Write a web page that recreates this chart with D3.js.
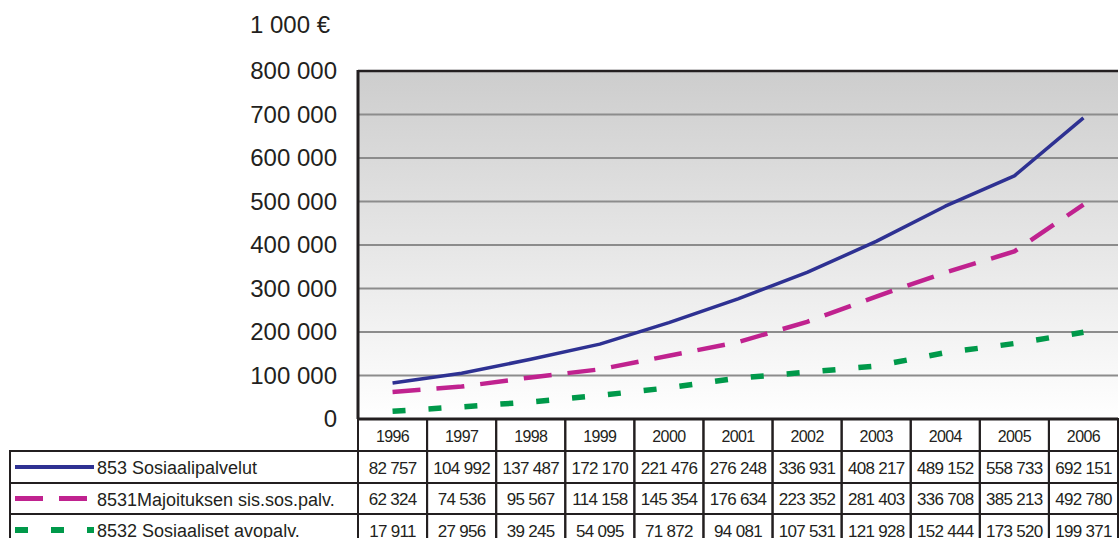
<!DOCTYPE html>
<html>
<head>
<meta charset="utf-8">
<script src="https://cdn.jsdelivr.net/npm/d3@7"></script>
<style>
  body { margin: 0; background: #fff; }
  svg { display: block; font-family: "Liberation Sans", Arial, sans-serif; }
</style>
</head>
<body>
<div id="chart"></div>
<script>
const years = ["1996", "1997", "1998", "1999", "2000", "2001", "2002", "2003", "2004", "2005", "2006"];
const seriesNames = ["853 Sosiaalipalvelut", "8531Majoituksen sis.sos.palv.", "8532 Sosiaaliset avopalv."];
const sosiaalipalvelut = [82757, 104992, 137487, 172170, 221476, 276248, 336931, 408217, 489152, 558733, 692151];
const majoitus = [62324, 74536, 95567, 114158, 145354, 176634, 223352, 281403, 336708, 385213, 492780];
const avopalvelut = [17911, 27956, 39245, 54095, 71872, 94081, 107531, 121928, 152444, 173520, 199371];
const yTicks = [0, 100000, 200000, 300000, 400000, 500000, 600000, 700000, 800000];
const unitLabel = "1 000 €";

const series = [
  {name: seriesNames[0], values: sosiaalipalvelut, color: "#2e3192", width: 3.5, dash: null},
  {name: seriesNames[1], values: majoitus, color: "#c0228f", width: 4.5, dash: "28,16"},
  {name: seriesNames[2], values: avopalvelut, color: "#00994a", width: 5.5, dash: "13,23"}
];

const width = 1120, height = 538;
const plotLeft = 358, plotRight = 1118, plotTop = 71, plotBottom = 419;
const rowTops = [451, 483, 514];
const rowH = [32, 31, 32];
const ink = "#231f20";

const fmt = d3.formatLocale({thousands: " ", grouping: [3], decimal: ","}).format(",d");

const x = d3.scaleBand().domain(years).range([plotLeft, plotRight]).padding(0);
const y = d3.scaleLinear().domain([0, 800000]).range([plotBottom, plotTop]);

const svg = d3.select("#chart").append("svg")
  .attr("width", width).attr("height", height);

const grad = svg.append("defs").append("linearGradient")
  .attr("id", "bg").attr("x1", 0).attr("y1", 0).attr("x2", 0).attr("y2", 1);
grad.append("stop").attr("offset", "0%").attr("stop-color", "#cdcdcd");
grad.append("stop").attr("offset", "100%").attr("stop-color", "#ffffff");

svg.append("rect")
  .attr("x", plotLeft).attr("y", plotTop)
  .attr("width", plotRight - plotLeft).attr("height", plotBottom - plotTop)
  .attr("fill", "url(#bg)");

// gridlines
svg.append("g").selectAll("line")
  .data(yTicks.filter(d => d > 0 && d < 800000))
  .join("line")
    .attr("x1", plotLeft).attr("x2", plotRight)
    .attr("y1", d => y(d)).attr("y2", d => y(d))
    .attr("stroke", "#8c8c8c").attr("stroke-width", 2);

// y labels
svg.append("g").selectAll("text")
  .data(yTicks)
  .join("text")
    .attr("x", 337).attr("y", d => y(d)).attr("dy", "0.35em")
    .attr("text-anchor", "end").attr("font-size", 24).attr("fill", ink)
    .text(d => d === 0 ? "0" : fmt(d));

svg.append("text")
  .attr("x", 250).attr("y", 33)
  .attr("font-size", 24).attr("fill", ink)
  .text(unitLabel);

// series lines
const line = d3.line()
  .x((d, i) => x(years[i]) + x.bandwidth() / 2)
  .y(d => y(d));

svg.append("g").selectAll("path")
  .data(series)
  .join("path")
    .attr("d", d => line(d.values))
    .attr("fill", "none")
    .attr("stroke", d => d.color)
    .attr("stroke-width", d => d.width)
    .attr("stroke-dasharray", d => d.dash)
    .attr("stroke-linejoin", "round");

// plot frame
svg.append("line").attr("x1", plotLeft).attr("x2", plotRight).attr("y1", plotTop).attr("y2", plotTop)
  .attr("stroke", ink).attr("stroke-width", 2.5);
svg.append("line").attr("x1", plotLeft).attr("x2", plotLeft).attr("y1", plotTop - 1).attr("y2", plotBottom)
  .attr("stroke", ink).attr("stroke-width", 3);
svg.append("line").attr("x1", plotLeft).attr("x2", plotRight).attr("y1", plotBottom).attr("y2", plotBottom)
  .attr("stroke", ink).attr("stroke-width", 3);

// data table
const table = svg.append("g").attr("fill", "none").attr("stroke", ink).attr("stroke-width", 2);

// header cells
table.selectAll("rect.head")
  .data(years)
  .join("rect").attr("class", "head")
    .attr("x", d => x(d)).attr("y", plotBottom)
    .attr("width", x.bandwidth()).attr("height", rowTops[0] - plotBottom);

svg.append("g").selectAll("text")
  .data(years)
  .join("text")
    .attr("x", d => x(d) + x.bandwidth() / 2)
    .attr("y", (plotBottom + rowTops[0]) / 2 + 1).attr("dy", "0.35em")
    .attr("text-anchor", "middle").attr("font-size", 16).attr("letter-spacing", -0.6)
    .attr("fill", ink)
    .text(d => d);

series.forEach((s, r) => {
  const top = rowTops[r], h = rowH[r], mid = top + h / 2;
  table.append("rect")
    .attr("x", 10).attr("y", top).attr("width", plotLeft - 10).attr("height", h);
  table.selectAll(null)
    .data(years)
    .join("rect")
      .attr("x", d => x(d)).attr("y", top)
      .attr("width", x.bandwidth()).attr("height", h);

  // legend key
  svg.append("line")
    .attr("x1", 15).attr("x2", 94).attr("y1", mid).attr("y2", mid)
    .attr("stroke", s.color).attr("stroke-width", s.width + 0.5)
    .attr("stroke-dasharray", s.dash);
  svg.append("text")
    .attr("x", 97).attr("y", mid + 1).attr("dy", "0.35em")
    .attr("font-size", 18).attr("fill", ink)
    .text(s.name);

  svg.append("g").selectAll("text")
    .data(s.values)
    .join("text")
      .attr("x", (d, i) => x(years[i]) + x.bandwidth() / 2)
      .attr("y", mid + 1).attr("dy", "0.35em")
      .attr("text-anchor", "middle").attr("font-size", 17).attr("letter-spacing", -0.7)
      .attr("fill", ink)
      .text(d => fmt(d));
});
</script>
</body>
</html>
